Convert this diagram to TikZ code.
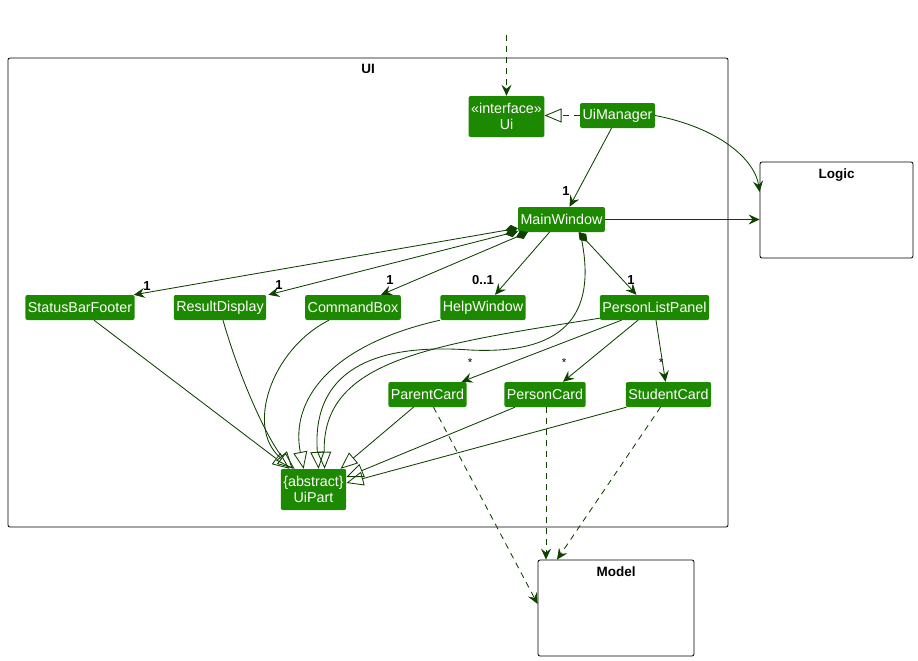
\documentclass[tikz,border=0pt]{standalone}
\usepackage{fontspec}
\setmainfont{Liberation Sans}
\usepackage{tikz}
\usetikzlibrary{arrows.meta,positioning}
\definecolor{uigreen}{HTML}{1D8900}
\definecolor{uiarrow}{HTML}{0E4100}

\begin{document}
\begin{tikzpicture}[
  x=1pt, y=-1pt,
  every node/.style={font=\fontsize{14.3}{16.5}\selectfont},
  cls/.style={fill=uigreen, text=white, rounded corners=2pt, align=center, inner xsep=2.5pt, inner ysep=0pt, minimum height=25pt},
  pkg/.style={draw, rounded corners=2pt, line width=0.8pt},
  ptitle/.style={font=\bfseries\fontsize{13.5}{15}\selectfont},
  mult/.style={font=\bfseries\fontsize{13}{14}\selectfont, inner sep=0pt},
  star/.style={font=\fontsize{11.5}{12}\selectfont, inner sep=0pt},
  arrow/.style={draw=uiarrow, line width=0.85pt, -{Stealth[length=11pt,width=10pt,inset=4pt]}},
  dep/.style={arrow, dash pattern=on 6pt off 5pt},
  comp/.style={arrow, {Diamond[length=13pt,width=9pt]}-{Stealth[length=11pt,width=10pt,inset=4pt]}},
  ext/.style={draw=uiarrow, line width=0.85pt, -{Triangle[open,length=17pt,width=14pt]}},
  impl/.style={ext, dash pattern=on 6pt off 5pt}
]
  \useasboundingbox (0,0) rectangle (918,661);

  % packages
  \draw[pkg] (8,58) rectangle (728,527);
  \node[ptitle] (uititle) at (368,69) {UI};
  \node[pkg, minimum width=153pt, minimum height=96pt] (logic) at (836.5,210) {};
  \node[ptitle, below=4pt of logic.north] (logictitle) {Logic};
  \node[pkg, minimum width=156pt, minimum height=96pt] (model) at (616,608) {};
  \node[ptitle, below=4pt of model.north] (modeltitle) {Model};

  % classes
  \node[cls, minimum height=41pt] (ui) at (506.5,116.5) {«interface»\\Ui};
  \node[cls] (uimgr) at (617.5,115.5) {UiManager};
  \node[cls] (mainwin) at (561.5,219.5) {MainWindow};
  \node[cls] (statusbar) at (80,307.5) {StatusBarFooter};
  \node[cls] (result) at (220,307.5) {ResultDisplay};
  \node[cls] (command) at (353,307.5) {CommandBox};
  \node[cls] (help) at (483,307.5) {HelpWindow};
  \node[cls] (plp) at (654.5,307.5) {PersonListPanel};
  \node[cls] (parent) at (427.5,394.5) {ParentCard};
  \node[cls] (personcard) at (545,394.5) {PersonCard};
  \node[cls] (student) at (668.5,394.5) {StudentCard};
  \node[cls, minimum height=41pt] (uipart) at (313.5,489.5) {\{abstract\}\\UiPart};

  % ui / uimanager / logic
  \coordinate (entry) at (506.5,35);
  \draw[dep] (entry) -- (ui);
  \draw[impl] (uimgr) -- (ui.east |- uimgr);
  \draw[arrow] ([xshift=-6pt]uimgr.south) -- ([xshift=8pt]mainwin.north);
  \node[mult] (m0) at (566,191) {1};
  \draw[arrow] (uimgr.east) .. controls (720,128) and (755,160) .. ([yshift=18pt]logic.west);
  \draw[arrow] (mainwin.east) -- (mainwin.east -| logic.west);

  % main window parts
  \draw[comp] ([yshift=4pt]mainwin.south west) -- ([xshift=-1pt]statusbar.north east);
  \draw[comp] ([yshift=1pt]mainwin.south west) -- ([xshift=2pt]result.north east);
  \draw[comp] ([xshift=10pt]mainwin.south west) -- ([xshift=-20pt]command.north east);
  \draw[arrow] ([xshift=-12pt]mainwin.south) -- ([xshift=12pt]help.north);
  \draw[comp] ([xshift=17pt]mainwin.south) -- ([xshift=-18pt]plp.north);
  \node[mult] (m1) at (147,286) {1};
  \node[mult] (m2) at (279,285) {1};
  \node[mult] (m3) at (390,280) {1};
  \node[mult] (m4) at (483,280) {0..1};
  \node[mult] (m5) at (631,280) {1};

  % person list panel cards
  \draw[arrow] ([xshift=-33pt]plp.south) -- ([xshift=34pt]parent.north);
  \draw[arrow] ([xshift=-16.5pt]plp.south) -- ([xshift=18pt]personcard.north);
  \draw[arrow] ([xshift=1.5pt]plp.south) -- ([xshift=-3pt]student.north);
  \node[star] (s1) at (470,363) {*};
  \node[star] (s2) at (564,363) {*};
  \node[star] (s3) at (661,363) {*};

  % inheritance
  \draw[ext] ([xshift=14pt]statusbar.south) -- ([xshift=9pt]uipart.north west);
  \draw[ext] ([xshift=3pt]result.south) .. controls (240,380) and (268,440) .. ([xshift=12pt]uipart.north west);
  \draw[ext] ([xshift=-24pt]command.south) .. controls (270,350) and (245,430) .. ([xshift=14pt]uipart.north west);
  \draw[ext] ([xshift=-43pt]help.south) .. controls (330,345) and (290,400) .. ([xshift=23pt]uipart.north west);
  \draw[ext] ([xshift=18.5pt]mainwin.south) .. controls (598,310) and (570,355) .. (470,350)
    .. controls (360,342) and (312,380) .. ([xshift=38pt]uipart.north west);
  \draw[ext] ([yshift=2pt]plp.south west) .. controls (430,345) and (322,360) .. ([xshift=44pt]uipart.north west);
  \draw[ext] ([xshift=-14pt]parent.south) -- ([xshift=60pt]uipart.north west);
  \draw[ext] ([xshift=-30pt]personcard.south) -- ([yshift=12.5pt]uipart.east);
  \draw[ext] ([xshift=-42pt]student.south) -- ([yshift=6.5pt]uipart.east);

  % model dependencies
  \draw[dep] ([xshift=6pt]parent.south) -- ([yshift=4pt]model.west);
  \draw[dep] ([xshift=1pt]personcard.south) -- ([xshift=-70pt]model.north);
  \draw[dep] ([xshift=-8pt]student.south) -- ([xshift=-59pt]model.north);
\end{tikzpicture}
\end{document}
